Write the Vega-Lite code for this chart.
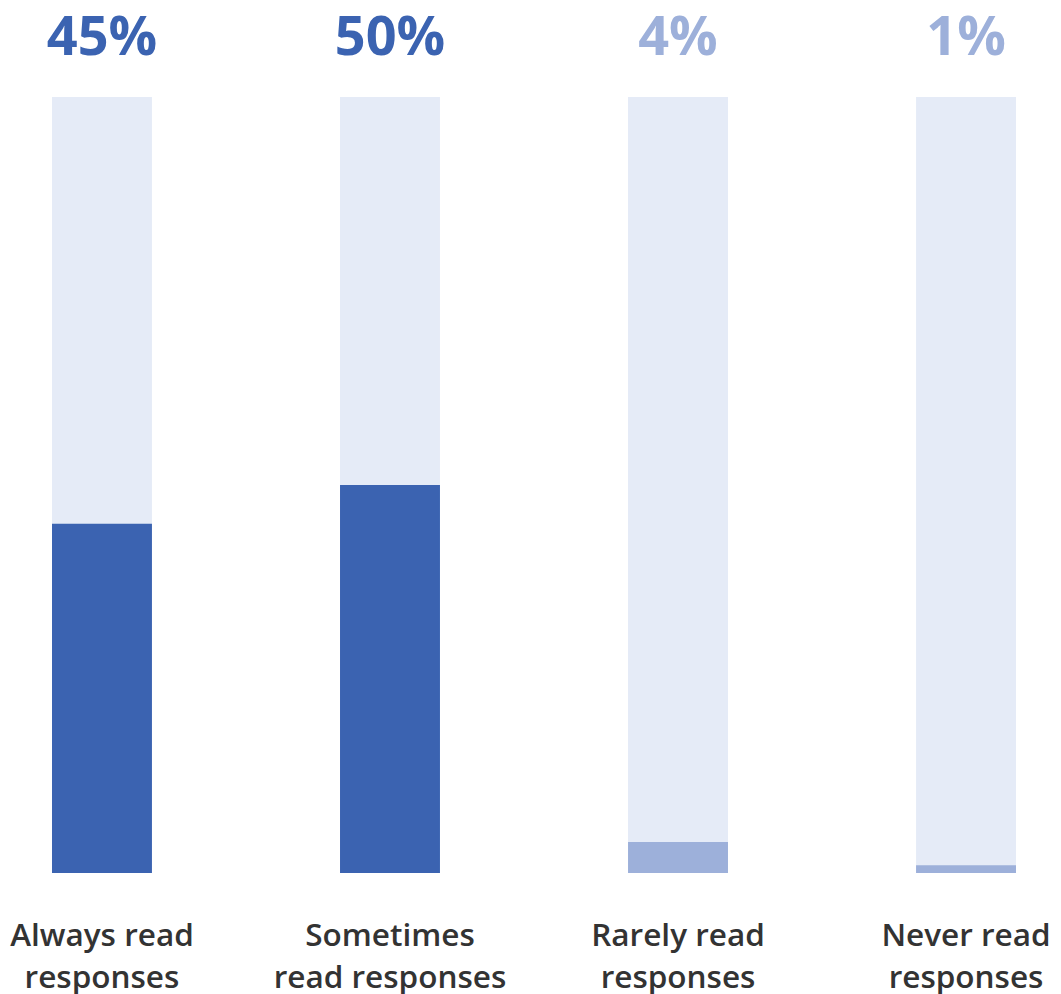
{
  "$schema": "https://vega.github.io/schema/vega-lite/v6.json",
  "width": 1061,
  "height": 994,
  "padding": 0,
  "autosize": {"type": "none"},
  "background": "#ffffff",
  "config": {"view": {"stroke": null}, "font": "Open Sans"},
  "data": {
    "values": [
      {"label": "Always read\nresponses", "share": 0.45},
      {"label": "Sometimes\nread responses", "share": 0.50},
      {"label": "Rarely read\nresponses", "share": 0.04},
      {"label": "Never read\nresponses", "share": 0.01}
    ]
  },
  "encoding": {
    "x": {
      "field": "label",
      "type": "nominal",
      "sort": null,
      "axis": null,
      "scale": {"range": [52, 1016], "paddingInner": 0.653, "paddingOuter": 0}
    }
  },
  "layer": [
    {
      "mark": {"type": "bar", "color": "#E5EBF7"},
      "encoding": {
        "y": {"datum": 1, "type": "quantitative", "axis": null, "scale": {"domain": [0, 1], "range": [873, 97]}},
        "y2": {"datum": 0}
      }
    },
    {
      "mark": {"type": "bar"},
      "encoding": {
        "y": {"field": "share", "type": "quantitative"},
        "y2": {"datum": 0},
        "color": {
          "condition": {"test": "datum.share >= 0.1", "value": "#3B63B1"},
          "value": "#9DB0DA"
        }
      }
    },
    {
      "mark": {"type": "text", "font": "Open Sans", "fontWeight": "bold", "fontSize": 54, "baseline": "alphabetic", "align": "center", "dy": -42},
      "encoding": {
        "y": {"datum": 1, "type": "quantitative"},
        "text": {"field": "share", "type": "quantitative", "format": ".0%"},
        "color": {
          "condition": {"test": "datum.share >= 0.1", "value": "#3B63B1"},
          "value": "#9DB0DA"
        }
      }
    },
    {
      "mark": {"type": "text", "font": "Open Sans", "fontWeight": 600, "fontSize": 31.5, "baseline": "alphabetic", "align": "center", "dy": 73, "lineBreak": "\n", "lineHeight": 42, "color": "#333333"},
      "encoding": {
        "y": {"datum": 0, "type": "quantitative"},
        "text": {"field": "label"}
      }
    }
  ]
}
